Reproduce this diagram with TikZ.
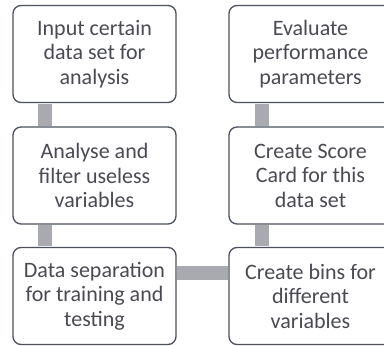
\documentclass[tikz,border=0pt]{standalone}
\usepackage{fontspec}
\setmainfont{Carlito}
\usepackage{xcolor}
\definecolor{boxline}{HTML}{4B505C}
\definecolor{boxtext}{HTML}{4A4B52}
\definecolor{barfill}{HTML}{A9AAAF}

\begin{document}
\begin{tikzpicture}[x=1pt, y=-1pt,
	box/.style={draw=boxline, line width=1.3pt, rounded corners=8pt, fill=white,
		minimum width=163pt, minimum height=97pt, inner sep=0pt,
		align=center, text=boxtext, font=\fontsize{22}{24.5}\selectfont},
	bar/.style={draw=barfill, line width=14pt}]
	\clip (0,0) rectangle (384,346);
	\fill[white] (0,0) rectangle (384,346);
	% left column
	\node[box] (input) at (94.5,54) {Input certain\\data set for\\analysis};
	\node[box] (filter) at (94.5,175.5) {Analyse and\\filter useless\\variables};
	\node[box] (split) at (94.5,296) {Data separation\\for training and\\testing};
	% right column
	\node[box] (eval) at (310.5,54) {Evaluate\\performance\\parameters};
	\node[box] (score) at (310.5,175.5) {Create Score\\Card for this\\data set};
	\node[box] (bins) at (310.5,296) {Create bins for\\different\\variables};
	% connectors
	\draw[bar] ([xshift=32.5pt,yshift=-0.7pt]input.south west) -- ([xshift=32.5pt,yshift=0.7pt]filter.north west);
	\draw[bar] ([xshift=32.5pt,yshift=-0.7pt]filter.south west) -- ([xshift=32.5pt,yshift=0.7pt]split.north west);
	\draw[bar] ([yshift=23pt,xshift=0.7pt]split.east) -- ([yshift=23pt,xshift=-0.7pt]bins.west);
	\draw[bar] ([xshift=34pt,yshift=0.7pt]bins.north west) -- ([xshift=34pt,yshift=-0.7pt]score.south west);
	\draw[bar] ([xshift=34pt,yshift=0.7pt]score.north west) -- ([xshift=34pt,yshift=-0.7pt]eval.south west);
\end{tikzpicture}
\end{document}
